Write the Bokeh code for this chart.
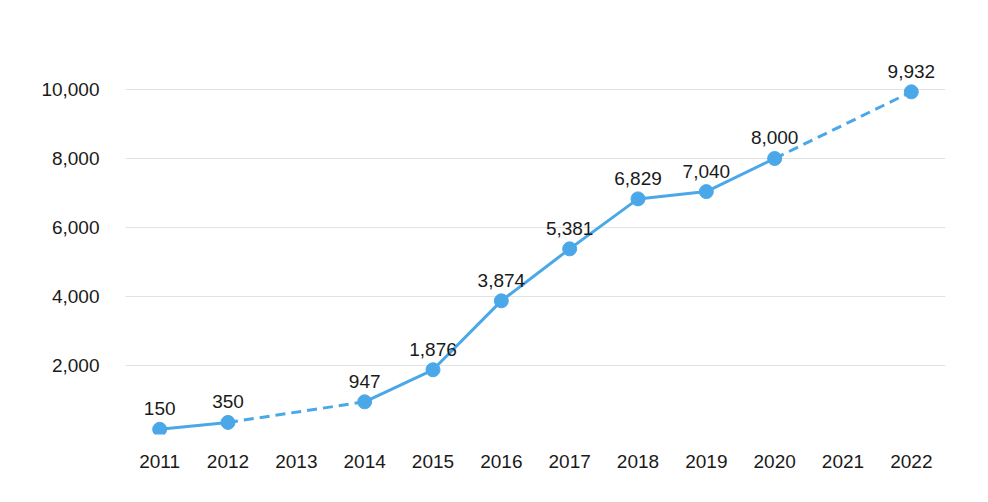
from bokeh.plotting import figure
from bokeh.models import ColumnDataSource, FixedTicker, NumeralTickFormatter, Range1d
from bokeh.core.properties import value
from bokeh.embed import file_html
from bokeh.resources import INLINE

years = [2011, 2012, 2013, 2014, 2015, 2016, 2017, 2018, 2019, 2020, 2021, 2022]
values = [150, 350, None, 947, 1876, 3874, 5381, 6829, 7040, 8000, None, 9932]
y_ticks = [2000, 4000, 6000, 8000, 10000]

COLOR = "#4aa8e8"
FONT = "Liberation Sans"
FS = "19px"

p = figure(width=972, height=486, output_backend="svg", toolbar_location=None,
           x_range=Range1d(2010.5, 2022.5), y_range=Range1d(0, 11420),
           min_border_left=125, min_border_right=27, min_border_top=40, min_border_bottom=52)
p.outline_line_color = None
p.xgrid.grid_line_color = None
p.ygrid.ticker = FixedTicker(ticks=[0] + y_ticks)
p.ygrid.grid_line_color = "#e2e2e2"
p.ygrid.grid_line_width = 1

p.xaxis.ticker = FixedTicker(ticks=years)
p.yaxis.ticker = FixedTicker(ticks=y_ticks)
p.yaxis.formatter = NumeralTickFormatter(format="0,0")
for ax in (p.xaxis, p.yaxis):
    ax.axis_line_color = None
    ax.major_tick_line_color = None
    ax.minor_tick_line_color = None
    ax.major_label_text_font = FONT
    ax.major_label_text_font_size = FS
    ax.major_label_text_color = "#1a1a1a"
p.xaxis.major_label_standoff = 14
p.yaxis.major_label_standoff = 20

# solid line (breaks at missing years)
ys = [v if v is not None else float("nan") for v in values]
p.line(years, ys, line_color=COLOR, line_width=3)

# dashed bridges across missing years
idx_known = [i for i, v in enumerate(values) if v is not None]
for a, b in zip(idx_known[:-1], idx_known[1:]):
    if b - a > 1:
        p.line([years[a], years[b]], [values[a], values[b]], line_color=COLOR,
               line_width=3, line_dash="10 6")

kx = [years[i] for i in idx_known]
kv = [values[i] for i in idx_known]
src = ColumnDataSource(dict(x=kx, y=kv, label=[f"{v:,}" for v in kv]))
p.scatter("x", "y", source=src, size=14, fill_color=COLOR, line_color=COLOR)
p.text("x", "y", text="label", source=src, text_align="center", text_baseline="bottom",
       y_offset=-14, text_font=value(FONT), text_font_size=FS, text_color="#1a1a1a")

open("out.html", "w").write(file_html(p, INLINE))
